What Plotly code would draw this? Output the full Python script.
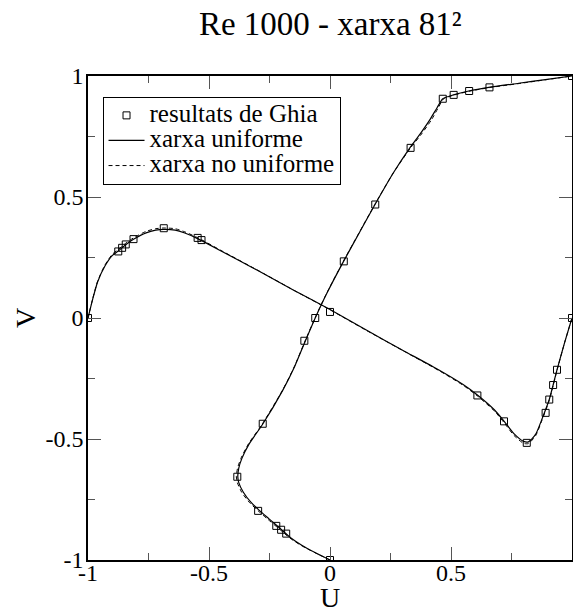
import plotly.graph_objects as go

# Ghia et al. reference points (position mapped to [-1, 1])
ghia_u_pos = [1.0, 0.953, 0.938, 0.922, 0.906, 0.703, 0.469, 0.234, 0.0, -0.094,
              -0.437, -0.656, -0.797, -0.859, -0.875, -0.891, -1.0]
ghia_u = [1.0, 0.659, 0.575, 0.511, 0.466, 0.333, 0.187, 0.057, -0.061, -0.106,
          -0.278, -0.383, -0.297, -0.222, -0.202, -0.181, 0.0]
ghia_v_pos = [1.0, 0.938, 0.922, 0.906, 0.891, 0.813, 0.719, 0.609, 0.0, -0.531,
              -0.547, -0.687, -0.812, -0.844, -0.859, -0.875, -1.0]
ghia_v = [0.0, -0.214, -0.277, -0.337, -0.392, -0.516, -0.427, -0.320, 0.025, 0.322,
          0.331, 0.371, 0.326, 0.304, 0.290, 0.275, 0.0]

# uniform grid: U along vertical centreline
uni_u_pos = [-1.0, -0.97, -0.94, -0.91, -0.875, -0.83, -0.797, -0.76, -0.72, -0.68,
             -0.656, -0.62, -0.58, -0.52, -0.44, -0.3, -0.2, -0.1, 0.0, 0.1, 0.234,
             0.35, 0.469, 0.6, 0.703, 0.76, 0.82, 0.87, 0.906, 0.922, 0.938, 0.953,
             0.97, 0.985, 1.0]
uni_u = [0.0, -0.06, -0.115, -0.16, -0.2, -0.252, -0.29, -0.328, -0.358, -0.377,
         -0.381, -0.377, -0.364, -0.334, -0.279, -0.196, -0.146, -0.104, -0.061,
         -0.014, 0.056, 0.12, 0.186, 0.262, 0.33, 0.372, 0.413, 0.443, 0.466, 0.51,
         0.573, 0.656, 0.78, 0.89, 1.0]
# uniform grid: V along horizontal centreline
uni_v_pos = [-1.0, -0.98, -0.96, -0.93, -0.9, -0.875, -0.844, -0.812, -0.76, -0.72,
             -0.687, -0.64, -0.6, -0.547, -0.45, -0.3, -0.15, 0.0, 0.15, 0.3, 0.45,
             0.55, 0.609, 0.68, 0.719, 0.76, 0.8, 0.82, 0.85, 0.875, 0.906, 0.938,
             0.97, 1.0]
uni_v = [0.0, 0.08, 0.15, 0.215, 0.258, 0.277, 0.303, 0.325, 0.352, 0.363, 0.366,
         0.363, 0.351, 0.328, 0.277, 0.197, 0.115, 0.035, -0.05, -0.133, -0.215,
         -0.275, -0.318, -0.38, -0.426, -0.478, -0.51, -0.512, -0.48, -0.42, -0.337,
         -0.214, -0.1, 0.0]

# non-uniform grid
non_u_pos = [-1.0, -0.97, -0.94, -0.91, -0.875, -0.83, -0.797, -0.76, -0.72, -0.68,
             -0.656, -0.62, -0.58, -0.52, -0.44, -0.3, -0.2, -0.1, 0.0, 0.1, 0.234,
             0.35, 0.469, 0.6, 0.703, 0.76, 0.82, 0.87, 0.906, 0.922, 0.938, 0.953,
             0.97, 0.985, 1.0]
non_u = [0.0, -0.062, -0.119, -0.165, -0.206, -0.259, -0.297, -0.335, -0.365, -0.383,
         -0.387, -0.382, -0.368, -0.337, -0.281, -0.197, -0.147, -0.105, -0.062,
         -0.015, 0.055, 0.119, 0.185, 0.262, 0.333, 0.378, 0.42, 0.448, 0.47, 0.515,
         0.58, 0.665, 0.79, 0.895, 1.0]
non_v_pos = [-1.0, -0.98, -0.96, -0.93, -0.9, -0.875, -0.844, -0.812, -0.76, -0.72,
             -0.687, -0.64, -0.6, -0.547, -0.45, -0.3, -0.15, 0.0, 0.15, 0.3, 0.45,
             0.55, 0.609, 0.68, 0.719, 0.76, 0.8, 0.82, 0.85, 0.875, 0.906, 0.938,
             0.97, 1.0]
non_v = [0.0, 0.082, 0.153, 0.219, 0.263, 0.283, 0.309, 0.331, 0.358, 0.369, 0.372,
         0.369, 0.356, 0.332, 0.279, 0.198, 0.115, 0.034, -0.051, -0.134, -0.217,
         -0.278, -0.322, -0.385, -0.432, -0.485, -0.518, -0.519, -0.486, -0.425,
         -0.34, -0.216, -0.1, 0.0]

tick_vals = [-1, -0.5, 0, 0.5, 1]
tick_text = ["-1", "-0.5", "0", "0.5", "1"]
series_names = ["resultats de Ghia", "xarxa uniforme", "xarxa no uniforme"]
x_title = "U"
y_title = "V"
chart_title = "Re 1000 - xarxa 81²"

FONT = "Liberation Serif, Times New Roman, Times, serif"
BLACK = "#000000"


def lg(name):
    return '<span style="font-size:25px">' + name + "</span>"


fig = go.Figure()

fig.add_trace(go.Scatter(x=ghia_u, y=ghia_u_pos, mode="markers", name=lg(series_names[0]),
                         legendgroup="g", showlegend=True,
                         marker=dict(symbol="square-open", size=7, color=BLACK,
                                     line=dict(width=1, color=BLACK))))
fig.add_trace(go.Scatter(x=ghia_v_pos, y=ghia_v, mode="markers", name=lg(series_names[0]),
                         legendgroup="g", showlegend=False,
                         marker=dict(symbol="square-open", size=7, color=BLACK,
                                     line=dict(width=1, color=BLACK))))

fig.add_trace(go.Scatter(x=uni_u, y=uni_u_pos, mode="lines", name=lg(series_names[1]),
                         legendgroup="u", showlegend=True,
                         line=dict(color=BLACK, width=1.2, shape="spline", smoothing=0.6)))
fig.add_trace(go.Scatter(x=uni_v_pos, y=uni_v, mode="lines", name=lg(series_names[1]),
                         legendgroup="u", showlegend=False,
                         line=dict(color=BLACK, width=1.2, shape="spline", smoothing=0.6)))

fig.add_trace(go.Scatter(x=non_u, y=non_u_pos, mode="lines", name=lg(series_names[2]),
                         legendgroup="n", showlegend=True,
                         line=dict(color=BLACK, width=1, dash="4px,3px", shape="spline",
                                   smoothing=0.6)))
fig.add_trace(go.Scatter(x=non_v_pos, y=non_v, mode="lines", name=lg(series_names[2]),
                         legendgroup="n", showlegend=False,
                         line=dict(color=BLACK, width=1, dash="4px,3px", shape="spline",
                                   smoothing=0.6)))

axis_common = dict(
    range=[-1, 1], tickmode="array", tickvals=tick_vals, ticktext=tick_text,
    showgrid=False, zeroline=False, automargin=False,
    showline=True, linecolor=BLACK, linewidth=1.5, mirror="allticks",
    ticks="inside", ticklen=13, tickwidth=1, tickcolor="#555555",
    minor=dict(ticks="inside", ticklen=7, tickwidth=1, tickcolor="#555555",
               tickmode="linear", tick0=-1, dtick=0.25, showgrid=False),
    tickfont=dict(family=FONT, size=24, color=BLACK),
)

fig.update_xaxes(**axis_common, ticklabelstandoff=-10)
fig.update_yaxes(**axis_common, ticklabelstandoff=-2,
                 title=dict(text=y_title, font=dict(family=FONT, size=28, color=BLACK),
                            standoff=2))

# x-axis title placed just below the tick labels, near the page's bottom edge
fig.add_annotation(text=x_title, xref="paper", yref="paper", x=0.5, y=-0.077,
                   xanchor="center", yanchor="middle", showarrow=False,
                   font=dict(family=FONT, size=28, color=BLACK))

fig.update_layout(
    width=573, height=611,
    margin=dict(l=88, r=1, t=76, b=51, autoexpand=False),
    paper_bgcolor="white", plot_bgcolor="white",
    title=dict(text=chart_title, x=0.5765, xanchor="center",
               y=1 - 23 / 611, yanchor="middle", yref="container",
               font=dict(family=FONT, size=33, color=BLACK)),
    legend=dict(x=0.03, y=0.957, xanchor="left", yanchor="top",
                bgcolor="white", bordercolor=BLACK, borderwidth=1,
                font=dict(family=FONT, size=17, color=BLACK),
                itemwidth=36, tracegroupgap=0),
    showlegend=True,
)

fig.write_html("out.html")
